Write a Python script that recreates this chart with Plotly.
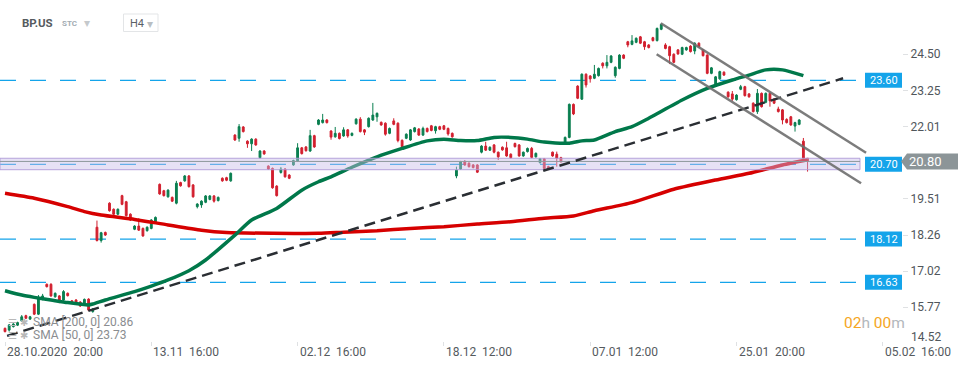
import plotly.graph_objects as go

# ---------------- data (H4 bars, bar 0 = 28.10.2020 20:00) ----------------
bar_open = [15.04, 14.98, 15.10, 15.15, 15.30, 15.48, 15.36, 15.87, 15.53, 16.04,
            16.56, 16.56, 16.13, 16.16, 16.02, 16.25, 15.99, 16.02, 15.95, 15.87,
            16.05, 15.62, 18.53, 18.07, 18.35, 19.36, 19.15, 18.98, 19.62, 19.41,
            18.98, 18.46, 18.57, 18.49, 18.41, 18.49, 18.72, 20.01, 19.79, 19.58,
            19.56, 19.36, 20.07, 20.13, 20.30, 19.99, 19.24, 19.30, 19.39, 19.49,
            19.61, 19.45, 20.22, 20.24, 20.13, 21.71, 21.60, 21.99, 21.50, 21.41,
            21.57, 20.93, 21.16, 20.64, 20.56, 19.95, 20.42, 20.54, 20.33, 20.68,
            20.82, 21.27, 21.30, 21.16, 21.69, 22.08, 22.14, 22.23, 21.85, 21.65,
            21.77, 21.68, 21.89, 21.70, 22.10, 22.26, 21.89, 22.00, 22.23, 22.34,
            22.15, 22.12, 21.77, 22.20, 22.12, 21.53, 21.60, 21.54, 21.83, 21.92,
            21.71, 21.94, 22.03, 21.86, 22.00, 22.03, 21.94, 21.77, 20.30, 20.54,
            20.79, 20.74, 20.68, 20.68, 21.12, 21.33, 21.19, 21.37, 21.12, 21.29,
            21.27, 21.05, 21.42, 21.37, 20.99, 21.14, 21.25, 20.96, 20.76, 20.89,
            20.62, 21.12, 21.05, 20.93, 21.42, 21.63, 22.77, 23.40, 22.95, 23.81,
            23.75, 23.67, 23.76, 24.19, 24.10, 24.22, 23.76, 24.01, 24.47, 24.93,
            24.84, 24.91, 25.10, 24.93, 24.82, 25.07, 24.97, 25.36, 24.82, 24.76,
            24.50, 24.65, 24.50, 24.65, 24.78, 24.61, 24.88, 24.65, 24.47, 23.84,
            23.44, 23.65, 23.88, 23.19, 23.13, 22.93, 23.29, 23.38, 23.13, 22.81,
            22.52, 23.15, 22.84, 23.15, 22.95, 22.61, 22.58, 22.25, 22.34, 22.02,
            22.08, 21.50, 20.91]
bar_high = [15.07, 15.19, 15.22, 15.27, 15.50, 15.51, 15.47, 15.90, 16.19, 16.23,
            16.59, 16.60, 16.28, 16.19, 16.36, 16.28, 16.02, 16.05, 15.98, 16.07,
            16.08, 15.74, 18.76, 18.37, 18.38, 19.39, 19.18, 19.18, 19.65, 19.44,
            19.01, 18.60, 18.84, 18.52, 18.56, 18.81, 18.90, 20.04, 19.82, 19.84,
            19.59, 20.13, 20.10, 20.33, 20.33, 20.02, 19.36, 19.46, 19.64, 19.64,
            19.64, 19.59, 20.25, 20.27, 20.42, 21.74, 22.09, 22.02, 21.53, 21.60,
            21.60, 21.19, 21.19, 20.67, 20.59, 19.98, 20.61, 20.57, 20.36, 20.86,
            21.43, 21.30, 21.33, 21.89, 21.72, 22.26, 22.44, 22.26, 21.88, 21.99,
            21.80, 21.98, 21.92, 21.80, 22.29, 22.33, 21.92, 22.32, 22.82, 22.49,
            22.18, 22.15, 21.97, 22.29, 22.15, 21.56, 21.77, 21.92, 21.99, 21.95,
            22.00, 21.97, 22.06, 22.03, 22.03, 22.06, 21.97, 21.80, 20.62, 20.82,
            20.85, 20.77, 20.71, 20.71, 21.36, 21.48, 21.32, 21.40, 21.14, 21.32,
            21.48, 21.08, 21.45, 21.40, 21.14, 21.28, 21.30, 21.11, 20.92, 20.92,
            20.65, 21.14, 21.14, 20.96, 21.66, 22.80, 22.80, 23.43, 23.84, 23.84,
            23.78, 24.13, 24.04, 24.22, 24.47, 24.47, 24.08, 24.50, 24.50, 24.96,
            25.16, 25.08, 25.13, 24.96, 24.85, 25.10, 25.42, 25.56, 24.88, 24.79,
            24.53, 24.68, 24.76, 24.76, 24.81, 24.91, 24.91, 24.68, 24.50, 24.06,
            23.75, 23.93, 23.91, 23.22, 23.23, 23.12, 23.44, 23.41, 23.16, 22.84,
            23.30, 23.18, 23.18, 23.18, 22.98, 22.69, 22.61, 22.29, 22.37, 22.17,
            22.26, 21.61, 20.91]
bar_low = [14.90, 14.93, 15.07, 15.12, 15.27, 15.36, 15.33, 15.50, 15.50, 16.01,
           16.45, 16.13, 16.10, 15.91, 15.99, 16.14, 15.90, 15.88, 15.78, 15.84,
           15.64, 15.58, 18.04, 18.00, 18.23, 19.07, 18.95, 18.95, 19.29, 18.90,
           18.75, 18.43, 18.40, 18.20, 18.38, 18.46, 18.69, 19.65, 19.59, 19.55,
           19.40, 19.32, 19.93, 20.10, 19.90, 19.55, 19.18, 19.20, 19.36, 19.46,
           19.38, 19.42, 20.10, 20.12, 20.10, 21.51, 21.48, 21.80, 21.27, 21.16,
           21.34, 20.90, 21.03, 20.51, 19.86, 19.59, 20.38, 20.24, 20.19, 20.65,
           20.78, 21.04, 21.14, 21.13, 21.27, 22.05, 22.11, 22.11, 21.55, 21.62,
           21.56, 21.65, 21.62, 21.67, 22.07, 21.80, 21.71, 21.97, 22.20, 22.17,
           22.03, 21.69, 21.74, 22.05, 21.46, 21.28, 21.57, 21.51, 21.80, 21.68,
           21.68, 21.80, 21.84, 21.76, 21.88, 21.88, 21.69, 21.62, 20.22, 20.51,
           20.65, 20.59, 20.56, 20.40, 21.08, 21.16, 21.16, 21.08, 20.85, 21.17,
           20.96, 20.90, 21.28, 20.96, 20.96, 21.11, 20.91, 20.93, 20.73, 20.53,
           20.51, 20.96, 20.62, 20.76, 21.39, 21.60, 22.40, 22.95, 22.92, 23.35,
           23.52, 23.64, 23.73, 24.01, 24.01, 24.19, 23.69, 23.98, 24.33, 24.74,
           24.81, 24.88, 24.85, 24.65, 24.70, 24.94, 24.94, 25.33, 24.67, 24.16,
           24.19, 24.48, 24.47, 24.62, 24.56, 24.50, 24.73, 24.42, 23.81, 23.81,
           23.41, 23.62, 23.75, 23.00, 22.89, 22.90, 23.26, 23.04, 23.00, 22.49,
           22.44, 22.66, 22.81, 22.69, 22.78, 22.49, 22.08, 22.11, 22.03, 21.83,
           22.05, 20.88, 20.45]
bar_close = [14.93, 15.16, 15.19, 15.24, 15.44, 15.39, 15.44, 15.53, 16.10, 16.16,
             16.48, 16.16, 16.25, 15.96, 16.31, 16.17, 15.93, 15.91, 15.81, 16.04,
             15.67, 15.70, 18.07, 18.34, 18.26, 19.10, 18.98, 19.15, 19.32, 18.93,
             18.78, 18.57, 18.43, 18.23, 18.53, 18.78, 18.87, 19.68, 19.62, 19.81,
             19.43, 20.05, 19.96, 20.30, 19.93, 19.58, 19.33, 19.43, 19.61, 19.61,
             19.43, 19.56, 20.13, 20.15, 20.39, 21.54, 22.00, 21.83, 21.41, 21.57,
             21.37, 21.16, 21.06, 20.54, 19.89, 19.62, 20.54, 20.27, 20.22, 20.83,
             21.27, 21.07, 21.17, 21.69, 21.30, 22.23, 22.23, 22.14, 21.64, 21.77,
             21.59, 21.89, 21.68, 21.77, 22.26, 21.83, 21.81, 22.29, 22.40, 22.46,
             22.06, 21.74, 21.94, 22.08, 21.52, 21.31, 21.74, 21.89, 21.96, 21.71,
             21.94, 21.83, 21.87, 22.00, 21.91, 21.91, 21.75, 21.65, 20.50, 20.79,
             20.68, 20.62, 20.59, 20.43, 21.33, 21.19, 21.29, 21.12, 20.96, 21.20,
             20.99, 20.93, 21.31, 20.99, 21.12, 21.25, 20.94, 21.08, 20.89, 20.56,
             20.54, 20.99, 20.91, 20.79, 21.63, 22.77, 22.44, 22.98, 23.81, 23.44,
             23.65, 23.81, 24.01, 24.10, 24.22, 24.44, 24.05, 24.47, 24.36, 24.82,
             24.96, 25.05, 24.88, 24.76, 24.73, 24.97, 25.39, 25.53, 24.70, 24.45,
             24.22, 24.51, 24.73, 24.73, 24.59, 24.88, 24.76, 24.45, 23.84, 24.03,
             23.72, 23.90, 23.78, 23.03, 22.95, 23.09, 23.38, 23.07, 23.03, 22.52,
             23.15, 22.69, 23.15, 22.89, 22.81, 22.52, 22.23, 22.14, 22.06, 22.14,
             22.23, 20.91, 20.80]
bar_index = list(range(len(bar_open)))

sma200_bar = [0, 7, 15, 19, 23, 31, 39, 47, 53, 64, 75, 81, 89, 97, 105, 113,
              121, 129, 136, 141, 150, 160, 170, 178, 186, 192]
sma200_val = [19.70, 19.53, 19.24, 19.07, 18.95, 18.80, 18.61, 18.43, 18.35, 18.32,
              18.32, 18.36, 18.41, 18.49, 18.55, 18.64, 18.72, 18.84, 18.92, 19.10,
              19.38, 19.84, 20.16, 20.39, 20.68, 20.86]
sma50_bar = [0, 4, 7, 11, 15, 20, 21, 24, 31, 35, 39, 44, 48, 55, 59, 65, 71, 75,
             78, 83, 89, 95, 101, 105, 109, 113, 117, 121, 125, 129, 135, 138, 141,
             146, 150, 154, 162, 168, 174, 178, 182, 186, 191]
sma50_val = [16.34, 16.19, 16.11, 16.02, 15.93, 15.85, 15.88, 16.02, 16.31, 16.50,
             16.71, 17.03, 17.40, 18.26, 18.78, 19.18, 19.81, 20.10, 20.27, 20.60,
             20.96, 21.25, 21.51, 21.57, 21.52, 21.52, 21.63, 21.63, 21.57, 21.47,
             21.43, 21.51, 21.54, 21.83, 22.00, 22.29, 22.92, 23.32, 23.61, 23.78,
             23.96, 23.96, 23.76]

date_tick_bars = [0, 35, 70, 105, 140, 175, 210]
date_tick_labels = ["28.10.2020 \u00a020:00", "13.11 \u00a016:00", "02.12 \u00a016:00",
                    "18.12 \u00a012:00", "07.01 \u00a012:00", "25.01 \u00a020:00",
                    "05.02 \u00a016:00"]
price_tick_vals = [24.50, 23.25, 22.01, 19.51, 18.26, 17.02, 15.77]
price_tick_text = ["24.50", "23.25", "22.01", "19.51", "18.26", "17.02", "15.77"]
bottom_price_label = "14.52"

level_vals = [23.60, 20.70, 18.12, 16.63]
zone_low, zone_high = 20.515, 20.91
last_price = 20.80
sma200_last, sma50_last = 20.86, 23.73

trend_bars = [0.5, 200.5]
trend_vals = [14.78, 23.67]
channel_upper_bars = [156.9, 206.0]
channel_upper_vals = [25.57, 21.10]
channel_lower_bars = [155.9, 204.8]
channel_lower_vals = [24.50, 20.05]

# ---------------- layout constants ----------------
W, H = 970, 368
PLOT_BOTTOM = 346           # px from top
X_RIGHT_PX = 902            # right end of x domain (px)
BAR_PX, BAR0_PX = 4.18, 5.0
x_range = [-BAR0_PX / BAR_PX, (X_RIGHT_PX - BAR0_PX) / BAR_PX]
y_range = [14.432, 26.371]
LINES_END = (858 - BAR0_PX) / BAR_PX
ZONE_END = (860 - BAR0_PX) / BAR_PX


def px(x):
    return x / W


def py(y):
    return (PLOT_BOTTOM - y) / PLOT_BOTTOM


def vy(v):
    """price -> paper y"""
    return (v - y_range[0]) / (y_range[1] - y_range[0])


GREEN = "#0a7f50"
RED = "#d21f2e"
BLUE = "#14a4ea"

fig = go.Figure()

fig.add_trace(go.Candlestick(
    x=bar_index, open=bar_open, high=bar_high, low=bar_low, close=bar_close,
    increasing=dict(line=dict(color=GREEN, width=1), fillcolor=GREEN),
    decreasing=dict(line=dict(color=RED, width=1), fillcolor=RED),
    whiskerwidth=0, showlegend=False, hoverinfo="skip"))

fig.add_trace(go.Scatter(x=sma200_bar, y=sma200_val, mode="lines",
                         line=dict(color="#d60000", width=3.5, shape="spline", smoothing=0.6),
                         showlegend=False, hoverinfo="skip"))
fig.add_trace(go.Scatter(x=sma50_bar, y=sma50_val, mode="lines",
                         line=dict(color="#00784a", width=3.5, shape="spline", smoothing=0.6),
                         showlegend=False, hoverinfo="skip"))

shapes = []
for lv in level_vals:
    shapes.append(dict(type="line", xref="x", yref="y", x0=x_range[0], x1=LINES_END,
                       y0=lv, y1=lv, layer="below",
                       line=dict(color=BLUE, width=1.3, dash="16px,14px")))
# zone
shapes.append(dict(type="rect", xref="x", yref="y", x0=x_range[0], x1=ZONE_END,
                   y0=zone_low, y1=zone_high, layer="above",
                   fillcolor="rgba(200,188,232,0.45)",
                   line=dict(color="rgba(175,155,215,0.9)", width=1)))
shapes.append(dict(type="line", xref="x", yref="y", x0=x_range[0], x1=ZONE_END,
                   y0=last_price, y1=last_price, layer="above",
                   line=dict(color="#8e989d", width=1)))
# trend & channel lines
shapes.append(dict(type="line", xref="x", yref="y", x0=trend_bars[0], x1=trend_bars[1],
                   y0=trend_vals[0], y1=trend_vals[1], layer="above",
                   line=dict(color="#2a2e33", width=2.5, dash="11px,6px")))
for bars, vals in ((channel_upper_bars, channel_upper_vals),
                   (channel_lower_bars, channel_lower_vals)):
    shapes.append(dict(type="line", xref="x", yref="y", x0=bars[0], x1=bars[1],
                       y0=vals[0], y1=vals[1], layer="above",
                       line=dict(color="rgba(110,110,110,0.9)", width=2.5)))

# level label boxes (paper coordinates so they are never clipped)
annotations = []
box_h = 7.5 / PLOT_BOTTOM
for lv in level_vals:
    shapes.append(dict(type="rect", xref="paper", yref="paper", x0=px(865), x1=px(902),
                       y0=vy(lv) - box_h, y1=vy(lv) + box_h, fillcolor=BLUE,
                       line=dict(width=0), layer="above"))
    annotations.append(dict(xref="paper", yref="paper", x=px(883.5), y=vy(lv),
                            xanchor="center", yanchor="middle", text=f"{lv:.2f}",
                            showarrow=False,
                            font=dict(color="white", size=11, family="Roboto")))
# last price tag
th = 8 / PLOT_BOTTOM
yc = vy(last_price)
shapes.append(dict(type="path", xref="paper", yref="paper", layer="above",
                   path=(f"M {px(901)},{yc} L {px(907)},{yc + th} "
                         f"L {px(958)},{yc + th} L {px(958)},{yc - th} "
                         f"L {px(907)},{yc - th} Z"),
                   fillcolor="#8c9598", line=dict(width=0)))
annotations.append(dict(xref="paper", yref="paper", x=px(925), y=yc,
                        xanchor="center", yanchor="middle",
                        text=f"{last_price:.2f}", showarrow=False,
                        font=dict(color="white", size=13, family="Roboto")))
# lowest price-axis label sits slightly above its level (as in the reference)
annotations.append(dict(xref="paper", yref="paper", x=px(909), y=py(337), xanchor="left",
                        yanchor="middle", text=bottom_price_label, showarrow=False,
                        font=dict(color="#50565b", size=12, family="Roboto")))

# date labels (left aligned at ticks)
for b, lab in zip(date_tick_bars, date_tick_labels):
    annotations.append(dict(xref="x", yref="paper", x=b, y=0, yshift=-6,
                            xanchor="left", yanchor="middle", text=lab, showarrow=False,
                            font=dict(color="#555a5e", size=12, family="Roboto")))

# header
annotations += [
    dict(xref="paper", yref="paper", x=px(20), y=py(23), xanchor="left", yanchor="middle",
         text="<b>BP.US</b>", showarrow=False,
         font=dict(color="#555b60", size=11.5, family="Roboto")),
    dict(xref="paper", yref="paper", x=px(60), y=py(24), xanchor="left", yanchor="middle",
         text="<b>STC</b>", showarrow=False,
         font=dict(color="#a3acb3", size=8, family="Roboto")),
    dict(xref="paper", yref="paper", x=px(82), y=py(22), xanchor="left", yanchor="middle",
         text="\u25BE", showarrow=False, font=dict(color="#c5c9cc", size=12)),
    dict(xref="paper", yref="paper", x=px(128), y=py(23), xanchor="left", yanchor="middle",
         text="H4", showarrow=False, font=dict(color="#5a6066", size=11, family="Roboto")),
    dict(xref="paper", yref="paper", x=px(145), y=py(23), xanchor="left", yanchor="middle",
         text="\u25BE", showarrow=False, font=dict(color="#b9bec2", size=12)),
]
shapes.append(dict(type="rect", xref="paper", yref="paper", x0=px(123.5), x1=px(158),
                   y0=py(31.5), y1=py(14), line=dict(color="#e3e5e7", width=1),
                   fillcolor="rgba(0,0,0,0)"))

# SMA legend
annotations += [
    dict(xref="paper", yref="paper", x=px(6), y=py(321.5), xanchor="left", yanchor="middle",
         text="\u2630 \u2731", showarrow=False, font=dict(color="#b8b8b8", size=10)),
    dict(xref="paper", yref="paper", x=px(6), y=py(335), xanchor="left", yanchor="middle",
         text="\u2630 \u2731", showarrow=False, font=dict(color="#b8b8b8", size=10)),
    dict(xref="paper", yref="paper", x=px(31), y=py(321.5), xanchor="left", yanchor="middle",
         text=f"SMA [200, 0] {sma200_last:.2f}", showarrow=False,
         font=dict(color="#8a8d90", size=12, family="Roboto")),
    dict(xref="paper", yref="paper", x=px(31), y=py(335), xanchor="left", yanchor="middle",
         text=f"SMA [50, 0] {sma50_last:.2f}", showarrow=False,
         font=dict(color="#8a8d90", size=12, family="Roboto")),
    dict(xref="paper", yref="paper", x=px(842), y=py(323), xanchor="left", yanchor="middle",
         text=("<span style='color:#f5a623'>02</span><span style='color:#b3b8bc'>h</span> "
               "<span style='color:#f5a623'>00</span><span style='color:#b3b8bc'>m</span>"),
         showarrow=False, font=dict(size=15.5, family="Roboto")),
]

fig.update_layout(
    width=W, height=H, template="none",
    margin=dict(l=0, r=0, t=0, b=H - PLOT_BOTTOM, pad=0),
    paper_bgcolor="white", plot_bgcolor="white",
    showlegend=False, boxgap=0.38,
    shapes=shapes, annotations=annotations,
    xaxis=dict(domain=[0, X_RIGHT_PX / W], range=x_range, rangeslider=dict(visible=False),
               showgrid=False, zeroline=False, showline=False,
               tickmode="array", tickvals=date_tick_bars, showticklabels=False,
               ticks="inside", ticklen=4, tickcolor="#dfe1e3", automargin=False),
    yaxis=dict(range=y_range, side="right", showgrid=False, zeroline=False, showline=False,
               tickmode="array", tickvals=price_tick_vals, ticktext=price_tick_text,
               ticks="outside", ticklen=5, tickcolor="#dfe1e3",
               tickfont=dict(color="#50565b", size=12, family="Roboto"),
               automargin=False),
)

fig.write_html("out.html", config={"displayModeBar": False},
               post_script="document.body.style.margin='0px';")
